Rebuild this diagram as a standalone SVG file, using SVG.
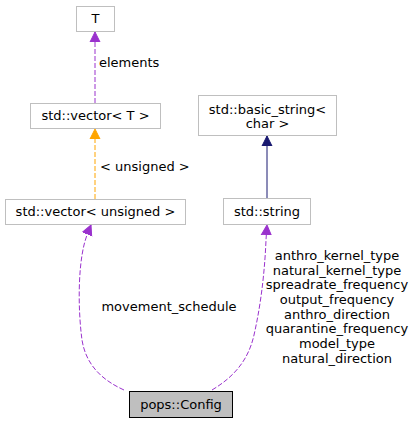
<svg xmlns="http://www.w3.org/2000/svg" width="415" height="423" viewBox="0 0 415 423">
<style>
text{font-family:"DejaVu Sans",sans-serif;font-size:13px;fill:#000}
.n{fill:#fff;stroke:#bfbfbf;stroke-width:1}
.c{text-anchor:middle}
.p{fill:none;stroke:#9a32cd;stroke-dasharray:5,2}
.o{fill:none;stroke:#ffa500;stroke-dasharray:5,2}
.b{fill:none;stroke:#191970}
</style>
<defs>
<marker id="mp" markerWidth="10" markerHeight="12" refX="10" refY="5" orient="auto" markerUnits="userSpaceOnUse" viewBox="0 0 10 10"><path d="M0,0L10,5L0,10z" fill="#9a32cd" stroke="#9a32cd"/></marker>
<marker id="mo" markerWidth="10" markerHeight="12" refX="10" refY="5" orient="auto" markerUnits="userSpaceOnUse" viewBox="0 0 10 10"><path d="M0,0L10,5L0,10z" fill="#ffa500" stroke="#ffa500"/></marker>
<marker id="mb" markerWidth="10" markerHeight="12" refX="10" refY="5" orient="auto" markerUnits="userSpaceOnUse" viewBox="0 0 10 10"><path d="M0,0L10,5L0,10z" fill="#191970" stroke="#191970"/></marker>
</defs>
<g id="connectors">
<path class="p" d="M95,103L95,32" marker-end="url(#mp)"/>
<text x="99" y="66.5">elements</text>
<path class="o" d="M95,199L95,129" marker-end="url(#mo)"/>
<text x="100" y="170.5">&lt; unsigned &gt;</text>
<path class="b" d="M267,198L267,136" marker-end="url(#mb)"/>
<path class="p" d="M124,390C102,380 86,365 82,340C78,310 78,270 84,245C86,237 88,232 91,225" marker-end="url(#mp)"/>
<text class="c" x="169" y="310.5">movement_schedule</text>
<path class="p" d="M212,390C232,378 248,362 254,335C262,300 265,265 266,240L267,225" marker-end="url(#mp)"/>
<g class="c">
<text x="337" y="259.5">anthro_kernel_type</text>
<text x="337" y="274.5">natural_kernel_type</text>
<text x="337" y="288.5">spreadrate_frequency</text>
<text x="337" y="304">output_frequency</text>
<text x="337" y="318.5">anthro_direction</text>
<text x="337" y="333">quarantine_frequency</text>
<text x="337" y="348">model_type</text>
<text x="337" y="362.5">natural_direction</text>
</g>
</g>
<g id="node_T"><rect class="n" x="76.5" y="6.5" width="38" height="25"/><text class="c" x="95.5" y="23">T</text></g>
<g id="node_vectorT"><rect class="n" x="30.5" y="103.5" width="130" height="25"/><text class="c" x="95.5" y="120">std::vector&lt; T &gt;</text></g>
<g id="node_vectorU"><rect class="n" x="5.5" y="199.5" width="180" height="25"/><text class="c" x="95.5" y="216">std::vector&lt; unsigned &gt;</text></g>
<g id="node_basic_string"><rect class="n" x="198.5" y="95.5" width="138" height="40"/><text class="c" x="267.5" y="113.5">std::basic_string&lt;</text><text class="c" x="267.5" y="127.5">char &gt;</text></g>
<g id="node_string"><rect class="n" x="223.5" y="198.5" width="87" height="26"/><text class="c" x="267" y="216">std::string</text></g>
<g id="node_config"><rect x="129.5" y="391.5" width="103" height="26" fill="#bfbfbf" stroke="#000"/><text class="c" x="181" y="408.5">pops::Config</text></g>
</svg>
